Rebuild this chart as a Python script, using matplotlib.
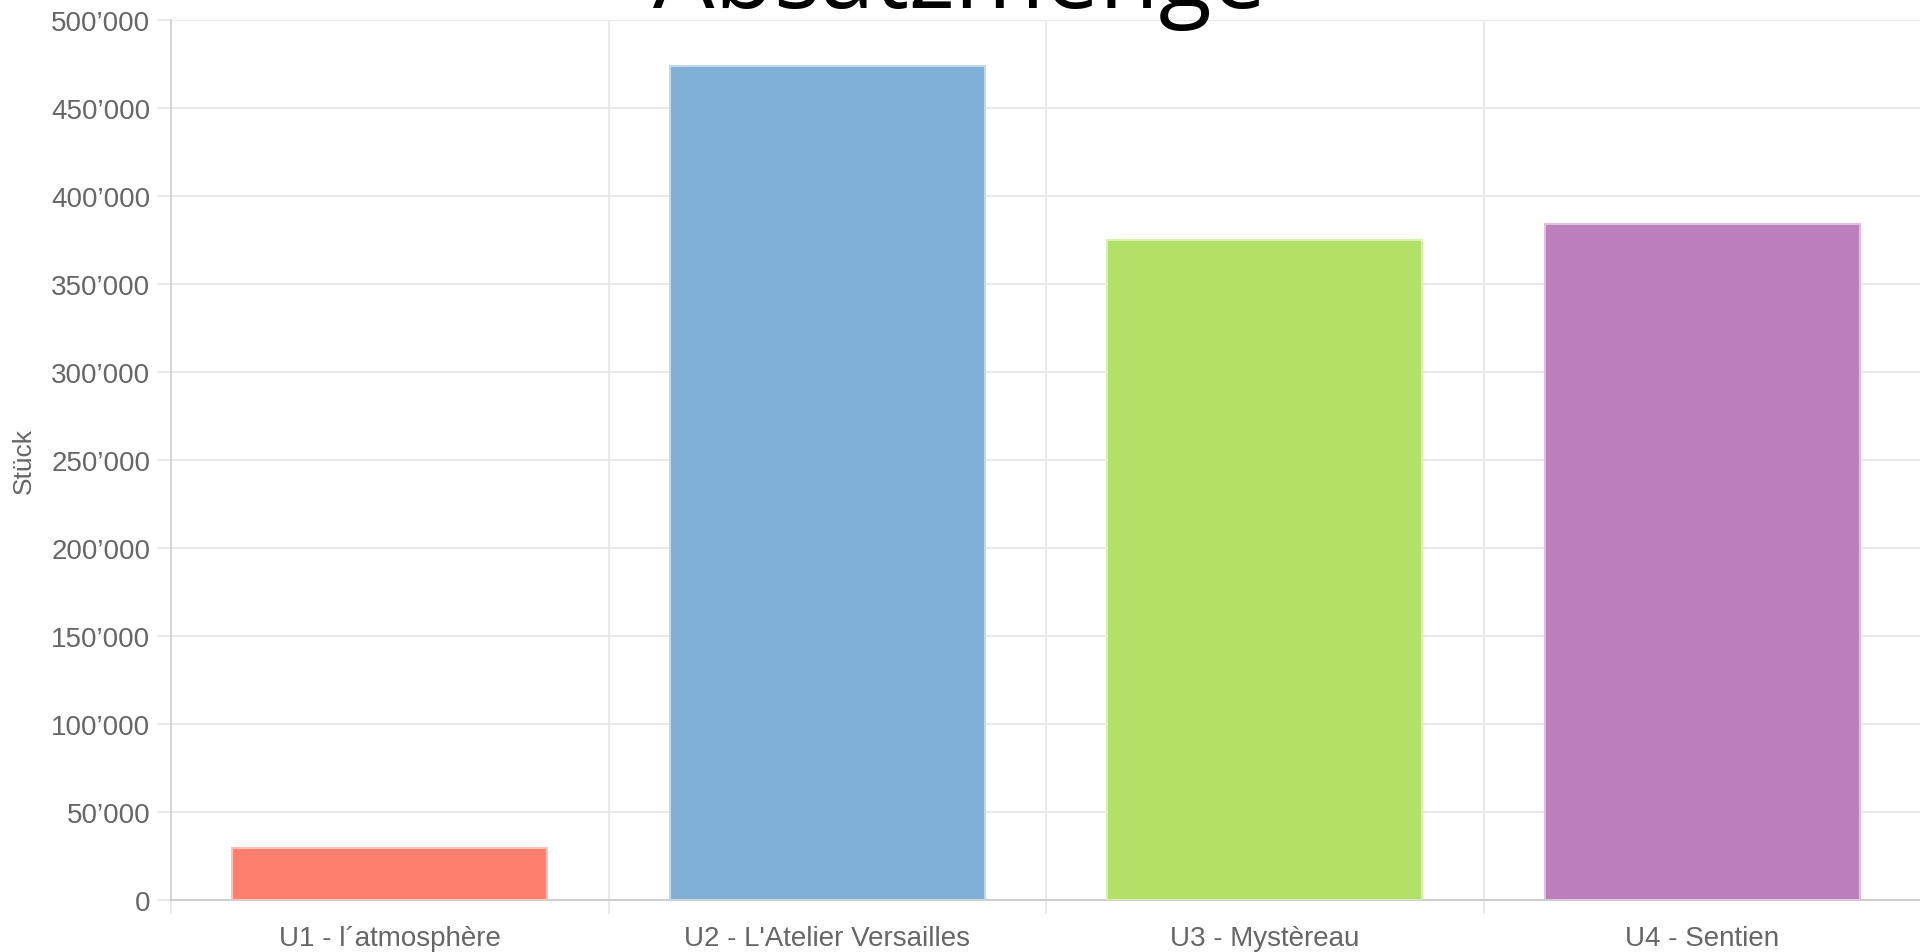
import matplotlib.pyplot as plt
from matplotlib.ticker import FuncFormatter, MultipleLocator

# Absatzmenge je Unternehmen
labels = ["U1 - l\u00b4atmosph\u00e8re", "U2 - L'Atelier Versailles",
          "U3 - Myst\u00e8reau", "U4 - Sentien"]
values = [29500, 473800, 374800, 384200]
colors = ["#fe7f6e", "#80b0d5", "#b3e066", "#bc7fbc"]
edges = ["#ffc0b8", "#c0d8ea", "#d9efb3", "#ddc0dd"]

grid_color = "#e6e6e6"
axis_color = "#cfcfcf"
text_color = "#666666"

plt.rcParams["font.family"] = ["Liberation Sans", "DejaVu Sans"]

fig = plt.figure(figsize=(19.2, 9.53), dpi=100)
ax = fig.add_axes([171 / 1920, 1 - 901 / 953, 1750 / 1920, 880 / 953])

x = range(len(labels))
ax.bar(x, values, width=0.72, color=colors, edgecolor=edges,
       linewidth=1.5, zorder=3)

ax.set_xlim(-0.5, len(labels) - 0.5)
ax.set_ylim(0, 500000)

ax.yaxis.set_major_locator(MultipleLocator(50000))
ax.yaxis.set_major_formatter(
    FuncFormatter(lambda v, p: f"{int(v):,}".replace(",", "\u2019")))
ax.set_xticks(list(x))
ax.set_xticklabels(labels)
ax.set_xticks([i - 0.5 for i in range(len(labels) + 1)], minor=True)

for side in ["top", "right"]:
    ax.spines[side].set_visible(False)
ax.spines["left"].set_color(axis_color)
ax.spines["bottom"].set_color(axis_color)
ax.spines["left"].set_linewidth(1.2)
ax.spines["bottom"].set_linewidth(1.5)

ax.grid(axis="y", which="major", color=grid_color, linewidth=1.2, zorder=0)
ax.grid(axis="x", which="minor", color=grid_color, linewidth=1.2, zorder=0)

ax.tick_params(axis="y", length=10, width=1.2, color=grid_color, pad=5,
               labelsize=20, labelcolor=text_color)
ax.tick_params(axis="x", which="major", length=0, pad=18,
               labelsize=20, labelcolor=text_color)
ax.tick_params(axis="x", which="minor", length=10, width=1.2,
               color=grid_color)

ax.set_ylabel("St\u00fcck", fontsize=19, color=text_color)
ax.yaxis.set_label_coords(-0.077, 0.5)

fig.text(0.5, 1 - 8 / 953, "Absatzmenge", ha="center", va="baseline",
         fontsize=70, family="Open Sans", color="black")

fig.savefig("out.png", dpi=100)
